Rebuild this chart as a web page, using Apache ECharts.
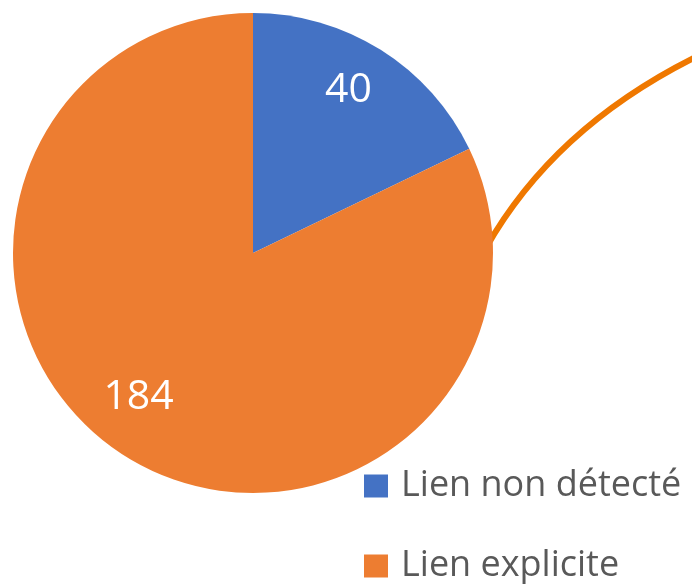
<!DOCTYPE html>
<html>
<head>
<meta charset="utf-8">
<script src="https://cdn.jsdelivr.net/npm/echarts@6/dist/echarts.min.js"></script>
<style>
  html, body { margin: 0; padding: 0; background: #ffffff; }
  #chart { width: 692px; height: 584px; }
</style>
</head>
<body>
<div id="chart"></div>
<script>
// Link detection results
const categories = ['Lien non détecté', 'Lien explicite'];
const counts = [40, 184];
const sliceColors = ['#4472C4', '#ED7D31'];

// Label nudges (outward along each slice), in pixels
const labelShift = [[30, -59], [-49, 40]];

// Legend rows: one block per category, stacked vertically
const legendTops = [466, 546];

const chart = echarts.init(document.getElementById('chart'), null, { renderer: 'canvas' });

chart.setOption({
  animation: false,
  backgroundColor: '#ffffff',
  legend: categories.map((name, i) => ({
    orient: 'vertical',
    left: 364,
    top: legendTops[i],
    padding: 0,
    itemWidth: 24,
    itemHeight: 23,
    icon: 'rect',
    textStyle: {
      fontFamily: 'Open Sans',
      fontSize: 36,
      lineHeight: 40,
      color: '#595959',
      padding: [0, 0, 0, 8]
    },
    data: [name]
  })),
  graphic: [{
    type: 'bezierCurve',
    z: 0,
    silent: true,
    shape: { x1: 486, y1: 248, cpx1: 555, cpy1: 126, x2: 700, y2: 55 },
    style: { stroke: '#EF7800', lineWidth: 6, fill: null }
  }],
  series: [{
    type: 'pie',
    z: 2,
    center: [253, 253],
    radius: [0, 240],
    startAngle: 90,
    clockwise: true,
    label: {
      show: true,
      position: 'inside',
      formatter: '{c}',
      color: '#ffffff',
      fontFamily: 'Open Sans',
      fontSize: 41
    },
    labelLine: { show: false },
    labelLayout: function (p) {
      const s = labelShift[p.dataIndex];
      return { dx: s[0], dy: s[1] };
    },
    emphasis: { disabled: true },
    itemStyle: { borderWidth: 0 },
    data: categories.map((name, i) => ({
      name: name,
      value: counts[i],
      itemStyle: { color: sliceColors[i] }
    }))
  }]
});
</script>
</body>
</html>
